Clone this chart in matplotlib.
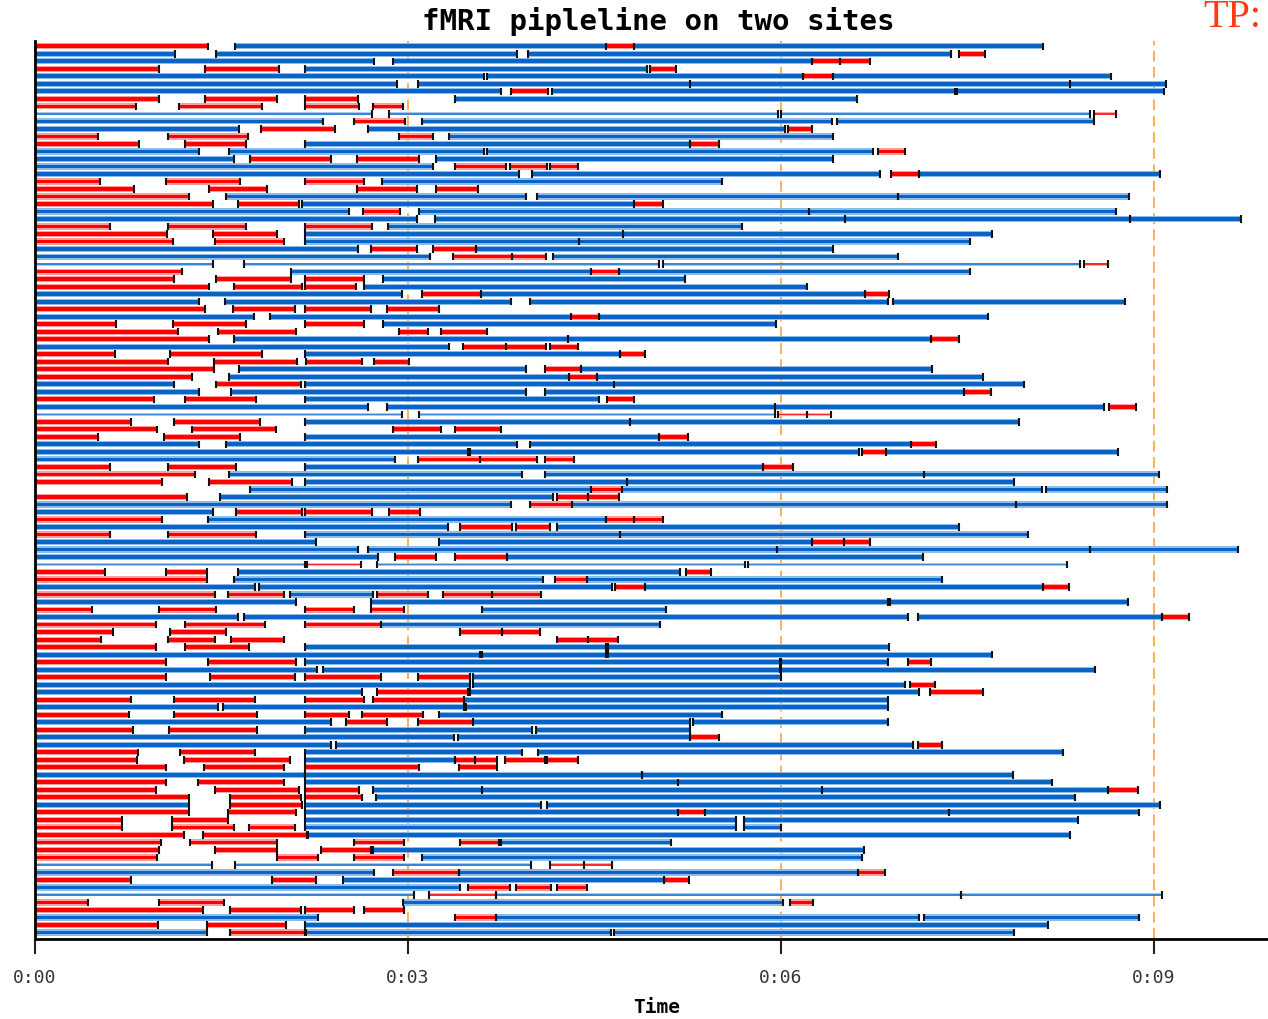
import matplotlib
matplotlib.use("Agg")
import matplotlib.pyplot as plt

# time in minutes; each row = list of (start, end, kind)
# kind: 'r' red, 'b' blue, 'rt' / 'bt' thin red / thin blue
rows = [
    [(0, 1.39, 'r'), (1.61, 4.59, 'b'), (4.59, 4.82, 'r'), (4.82, 8.11, 'b')],
    [(0, 1.13, 'b'), (1.46, 3.88, 'b'), (3.97, 7.37, 'b'), (7.43, 7.64, 'r')],
    [(0, 2.73, 'b'), (2.88, 6.25, 'b'), (6.25, 6.48, 'r'), (6.48, 6.72, 'r')],
    [(0, 1.0, 'r'), (1.37, 1.96, 'r'), (2.17, 4.92, 'b'), (4.95, 5.16, 'r')],
    [(0, 3.61, 'b'), (3.64, 6.18, 'b'), (6.18, 6.42, 'r'), (6.42, 8.66, 'b')],
    [(0, 2.91, 'b'), (3.08, 5.27, 'b'), (5.27, 8.33, 'b'), (8.33, 9.10, 'b')],
    [(0, 3.75, 'b'), (3.83, 4.13, 'r'), (4.16, 7.40, 'b'), (7.42, 9.08, 'b')],
    [(0, 1.0, 'r'), (1.37, 1.95, 'r'), (2.17, 2.6, 'r'), (3.38, 6.61, 'b')],
    [(0, 0.81, 'r'), (1.16, 1.83, 'r'), (2.17, 2.61, 'r'), (2.72, 2.96, 'r')],
    [(0, 2.71, 'bt'), (2.85, 5.98, 'bt'), (6.0, 8.49, 'bt'), (8.52, 8.70, 'rt')],
    [(0, 2.32, 'b'), (2.57, 2.98, 'r'), (3.11, 6.41, 'b'), (6.45, 8.52, 'b')],
    [(0, 1.64, 'b'), (1.82, 2.41, 'r'), (2.68, 6.03, 'b'), (6.06, 6.25, 'r')],
    [(0, 0.51, 'r'), (1.07, 1.71, 'r'), (2.93, 3.20, 'r'), (3.33, 6.42, 'b')],
    [(0, 0.84, 'r'), (1.21, 1.70, 'r'), (2.17, 5.27, 'b'), (5.27, 5.50, 'r')],
    [(0, 1.32, 'b'), (1.56, 3.61, 'b'), (3.64, 6.74, 'b'), (6.78, 7.0, 'r')],
    [(0, 1.60, 'b'), (1.73, 2.38, 'r'), (2.59, 3.09, 'r'), (3.23, 6.42, 'b')],
    [(0, 3.20, 'b'), (3.38, 3.79, 'r'), (3.82, 4.12, 'r'), (4.14, 4.37, 'r')],
    [(0, 3.89, 'b'), (4.0, 6.80, 'b'), (6.89, 7.11, 'r'), (7.11, 9.05, 'b')],
    [(0, 0.52, 'r'), (1.05, 1.65, 'r'), (2.17, 2.65, 'r'), (2.79, 5.53, 'b')],
    [(0, 0.80, 'r'), (1.40, 1.87, 'r'), (2.59, 3.07, 'r'), (3.23, 3.56, 'r')],
    [(0, 1.24, 'r'), (1.54, 3.95, 'b'), (4.04, 6.94, 'b'), (6.94, 8.80, 'b')],
    [(0, 1.43, 'r'), (1.63, 2.12, 'r'), (2.15, 4.82, 'b'), (4.82, 5.05, 'r')],
    [(0, 2.53, 'b'), (2.64, 2.94, 'r'), (3.09, 6.23, 'b'), (6.23, 8.70, 'b')],
    [(0, 3.07, 'b'), (3.22, 6.52, 'b'), (6.52, 8.81, 'b'), (8.81, 9.70, 'b')],
    [(0, 0.60, 'r'), (1.07, 1.70, 'r'), (2.17, 2.71, 'r'), (2.84, 5.69, 'b')],
    [(0, 1.06, 'r'), (1.43, 1.95, 'r'), (2.17, 4.73, 'b'), (4.73, 7.70, 'b')],
    [(0, 1.11, 'r'), (1.45, 2.0, 'r'), (2.17, 4.38, 'b'), (4.38, 7.52, 'b')],
    [(0, 2.60, 'b'), (2.70, 3.07, 'r'), (3.20, 3.55, 'r'), (3.55, 6.42, 'b')],
    [(0, 3.18, 'b'), (3.36, 3.84, 'r'), (3.84, 4.11, 'r'), (4.17, 6.94, 'b')],
    [(0, 1.43, 'bt'), (1.68, 5.02, 'bt'), (5.05, 8.41, 'bt'), (8.44, 8.63, 'rt')],
    [(0, 1.18, 'r'), (2.06, 4.47, 'b'), (4.47, 4.70, 'r'), (4.70, 7.52, 'b')],
    [(0, 1.12, 'r'), (1.46, 2.06, 'r'), (2.17, 2.65, 'r'), (2.80, 5.23, 'b')],
    [(0, 1.40, 'r'), (1.60, 2.15, 'r'), (2.17, 2.58, 'r'), (2.65, 6.21, 'b')],
    [(0, 2.95, 'b'), (3.11, 3.59, 'r'), (3.59, 6.68, 'b'), (6.68, 6.87, 'r')],
    [(0, 1.32, 'b'), (1.53, 3.83, 'b'), (3.98, 6.86, 'b'), (6.90, 8.77, 'b')],
    [(0, 1.37, 'r'), (1.59, 2.09, 'r'), (2.17, 2.70, 'r'), (2.83, 3.25, 'r')],
    [(0, 1.76, 'b'), (1.89, 4.31, 'b'), (4.31, 4.54, 'r'), (4.54, 7.67, 'b')],
    [(0, 0.65, 'r'), (1.11, 1.70, 'r'), (2.17, 2.65, 'r'), (2.80, 5.96, 'b')],
    [(0, 1.15, 'r'), (1.47, 2.10, 'r'), (2.93, 3.16, 'r'), (3.27, 3.64, 'r')],
    [(0, 1.40, 'r'), (1.60, 4.29, 'b'), (4.29, 7.21, 'b'), (7.21, 7.43, 'r')],
    [(0, 3.33, 'b'), (3.44, 3.79, 'r'), (3.79, 4.11, 'r'), (4.14, 4.37, 'r')],
    [(0, 0.64, 'r'), (1.09, 1.83, 'r'), (2.17, 4.71, 'b'), (4.71, 4.91, 'r')],
    [(0, 1.07, 'r'), (1.44, 2.11, 'r'), (2.18, 2.63, 'r'), (2.73, 3.01, 'r')],
    [(0, 1.44, 'r'), (1.64, 3.95, 'b'), (4.10, 4.39, 'r'), (4.39, 7.22, 'b')],
    [(0, 1.26, 'r'), (1.56, 4.30, 'b'), (4.30, 4.52, 'r'), (4.52, 7.63, 'b')],
    [(0, 1.12, 'b'), (1.46, 2.14, 'r'), (2.17, 4.66, 'b'), (4.66, 7.96, 'b')],
    [(0, 1.32, 'b'), (1.58, 3.95, 'b'), (4.10, 7.47, 'b'), (7.47, 7.69, 'r')],
    [(0, 0.96, 'r'), (1.21, 1.78, 'r'), (2.17, 4.54, 'b'), (4.60, 4.82, 'r')],
    [(0, 2.68, 'b'), (2.83, 5.95, 'b'), (5.95, 8.60, 'b'), (8.64, 8.86, 'r')],
    [(0, 2.95, 'bt'), (3.09, 5.95, 'bt'), (5.98, 6.21, 'rt'), (6.21, 6.40, 'rt')],
    [(0, 0.77, 'r'), (1.12, 1.81, 'r'), (2.17, 4.79, 'b'), (4.79, 7.92, 'b')],
    [(0, 0.98, 'r'), (1.26, 1.94, 'r'), (2.88, 3.27, 'r'), (3.38, 3.75, 'r')],
    [(0, 0.51, 'r'), (1.04, 1.65, 'r'), (2.17, 5.02, 'b'), (5.02, 5.25, 'r')],
    [(0, 1.32, 'b'), (1.54, 3.88, 'b'), (3.98, 7.05, 'b'), (7.05, 7.25, 'r')],
    [(0, 3.48, 'b'), (3.50, 6.63, 'b'), (6.65, 6.85, 'r'), (6.85, 8.71, 'b')],
    [(0, 2.90, 'b'), (3.08, 3.58, 'r'), (3.58, 4.04, 'r'), (4.10, 4.34, 'r')],
    [(0, 0.60, 'r'), (1.07, 1.62, 'r'), (2.17, 5.86, 'b'), (5.86, 6.10, 'r')],
    [(0, 1.29, 'r'), (1.56, 3.92, 'b'), (4.10, 7.15, 'b'), (7.15, 9.04, 'b')],
    [(0, 1.02, 'r'), (1.40, 2.07, 'r'), (2.17, 4.76, 'b'), (4.76, 7.88, 'b')],
    [(1.73, 4.47, 'b'), (4.47, 4.72, 'r'), (4.72, 8.10, 'b'), (8.13, 9.11, 'b')],
    [(0, 1.22, 'r'), (1.49, 4.17, 'b'), (4.20, 4.45, 'r'), (4.45, 4.70, 'r')],
    [(0, 3.83, 'b'), (3.98, 4.32, 'r'), (4.32, 7.89, 'b'), (7.89, 9.11, 'b')],
    [(0, 1.43, 'b'), (1.62, 2.15, 'r'), (2.17, 2.71, 'r'), (2.85, 3.10, 'r')],
    [(0, 1.02, 'r'), (1.39, 4.59, 'b'), (4.59, 4.82, 'r'), (4.82, 5.05, 'r')],
    [(0, 3.32, 'b'), (3.42, 3.84, 'r'), (3.87, 4.14, 'r'), (4.20, 7.43, 'b')],
    [(0, 0.60, 'r'), (1.07, 1.78, 'r'), (2.17, 4.71, 'b'), (4.71, 7.99, 'b')],
    [(0, 2.26, 'b'), (3.25, 6.25, 'b'), (6.25, 6.51, 'r'), (6.51, 6.72, 'r')],
    [(0, 2.60, 'b'), (2.68, 5.97, 'b'), (5.97, 8.49, 'b'), (8.49, 9.68, 'b')],
    [(0, 2.76, 'b'), (2.90, 3.23, 'r'), (3.38, 3.80, 'r'), (3.80, 7.14, 'b')],
    [(0, 2.17, 'bt'), (2.19, 2.62, 'rt'), (2.75, 5.71, 'bt'), (5.74, 8.30, 'bt')],
    [(0, 0.56, 'r'), (1.05, 1.38, 'r'), (1.63, 5.19, 'b'), (5.24, 5.44, 'r')],
    [(0, 1.38, 'r'), (1.60, 4.09, 'b'), (4.18, 4.44, 'r'), (4.44, 7.30, 'b')],
    [(0, 1.77, 'b'), (1.80, 4.64, 'b'), (4.67, 4.91, 'r'), (4.91, 8.11, 'b'), (8.11, 8.32, 'r')],
    [(0, 1.45, 'r'), (1.55, 2.0, 'r'), (2.05, 2.72, 'b'), (2.75, 3.16, 'r'), (3.28, 3.68, 'r'), (3.68, 4.07, 'r')],
    [(0, 2.10, 'b'), (2.70, 6.86, 'b'), (6.88, 8.79, 'b')],
    [(0, 0.46, 'r'), (1.0, 1.46, 'r'), (2.17, 2.57, 'r'), (2.70, 2.97, 'r'), (3.60, 5.08, 'b')],
    [(0, 1.63, 'b'), (1.68, 7.02, 'b'), (7.10, 9.07, 'b'), (9.07, 9.28, 'r')],
    [(0, 0.97, 'r'), (1.21, 1.85, 'r'), (2.17, 2.78, 'r'), (2.78, 5.03, 'b')],
    [(0, 0.63, 'r'), (1.09, 1.54, 'r'), (3.42, 3.76, 'r'), (3.76, 4.06, 'r')],
    [(0, 0.53, 'r'), (1.07, 1.45, 'r'), (1.58, 2.0, 'r'), (4.20, 4.45, 'r'), (4.45, 4.69, 'r')],
    [(0, 0.97, 'r'), (1.21, 1.72, 'r'), (2.17, 4.59, 'b'), (4.61, 6.87, 'b')],
    [(0, 3.58, 'b'), (3.60, 4.59, 'b'), (4.61, 7.70, 'b')],
    [(0, 1.05, 'r'), (1.39, 2.10, 'r'), (2.17, 5.99, 'b'), (6.0, 6.86, 'b'), (7.02, 7.21, 'r')],
    [(0, 2.27, 'b'), (2.32, 5.99, 'b'), (6.0, 8.53, 'b')],
    [(0, 1.05, 'r'), (1.41, 2.09, 'r'), (2.17, 2.78, 'r'), (3.08, 3.50, 'r'), (3.52, 6.0, 'b')],
    [(0, 3.50, 'b'), (3.52, 7.0, 'b'), (7.04, 7.24, 'r')],
    [(0, 2.63, 'b'), (2.75, 3.48, 'r'), (3.50, 7.11, 'b'), (7.20, 7.63, 'r')],
    [(0, 0.77, 'r'), (1.12, 1.77, 'r'), (2.17, 2.65, 'r'), (2.72, 3.45, 'r'), (3.45, 6.86, 'b')],
    [(0, 1.47, 'b'), (1.51, 3.45, 'b'), (3.47, 6.86, 'b')],
    [(0, 0.76, 'r'), (1.12, 1.79, 'r'), (2.17, 2.53, 'r'), (2.63, 3.12, 'r'), (3.25, 5.53, 'b')],
    [(0, 2.38, 'b'), (2.50, 2.83, 'r'), (3.08, 3.52, 'r'), (3.52, 5.27, 'b'), (5.29, 6.86, 'b')],
    [(0, 0.79, 'r'), (1.08, 1.79, 'r'), (2.17, 4.0, 'b'), (4.03, 5.27, 'b')],
    [(0, 3.37, 'b'), (3.40, 5.27, 'b'), (5.27, 5.50, 'r')],
    [(0, 2.38, 'b'), (2.42, 7.06, 'b'), (7.10, 7.30, 'r')],
    [(0, 0.83, 'r'), (1.17, 1.77, 'r'), (2.17, 3.92, 'b'), (4.05, 8.27, 'b')],
    [(0, 0.82, 'r'), (1.20, 2.05, 'r'), (2.17, 3.38, 'b'), (3.38, 3.54, 'r'), (3.54, 3.72, 'r'), (3.78, 4.10, 'r'), (4.12, 4.37, 'r')],
    [(0, 1.05, 'r'), (1.36, 2.0, 'r'), (2.17, 3.09, 'r'), (3.41, 3.72, 'r')],
    [(0, 2.17, 'b'), (2.17, 4.88, 'b'), (4.88, 7.87, 'b')],
    [(0, 1.05, 'r'), (1.31, 2.0, 'r'), (2.17, 5.17, 'b'), (5.17, 8.18, 'b')],
    [(0, 0.97, 'r'), (1.45, 2.12, 'r'), (2.17, 2.61, 'r'), (2.72, 3.60, 'b'), (3.60, 6.33, 'b'), (6.33, 8.63, 'b'), (8.63, 8.87, 'r')],
    [(0, 1.24, 'r'), (1.57, 2.14, 'r'), (2.17, 2.63, 'r'), (2.74, 8.37, 'b')],
    [(0, 1.24, 'b'), (1.57, 2.15, 'r'), (2.17, 4.07, 'b'), (4.12, 9.05, 'b')],
    [(0, 1.24, 'r'), (1.55, 2.10, 'r'), (2.17, 5.17, 'b'), (5.17, 5.39, 'r'), (5.39, 7.35, 'b'), (7.35, 8.88, 'b')],
    [(0, 0.70, 'r'), (1.10, 1.55, 'r'), (2.17, 5.64, 'b'), (5.70, 8.39, 'b')],
    [(0, 0.70, 'r'), (1.10, 1.60, 'r'), (1.72, 2.09, 'r'), (2.17, 5.64, 'b'), (5.70, 6.0, 'b')],
    [(0, 1.20, 'r'), (1.35, 2.19, 'r'), (2.20, 8.33, 'b')],
    [(0, 1.01, 'r'), (1.25, 1.95, 'r'), (2.57, 2.97, 'r'), (3.42, 3.73, 'r'), (3.75, 5.12, 'b')],
    [(0, 1.0, 'r'), (1.45, 1.95, 'r'), (2.30, 2.70, 'r'), (2.72, 6.67, 'b')],
    [(0, 0.98, 'r'), (1.95, 2.28, 'r'), (2.57, 2.97, 'r'), (3.11, 6.65, 'b')],
    [(0, 1.42, 'bt'), (1.61, 3.99, 'bt'), (4.14, 4.42, 'rt'), (4.42, 4.64, 'rt')],
    [(0, 2.73, 'b'), (2.88, 3.41, 'r'), (3.41, 6.62, 'b'), (6.62, 6.84, 'r')],
    [(0, 0.77, 'r'), (1.91, 2.26, 'r'), (2.48, 5.06, 'b'), (5.06, 5.26, 'r')],
    [(0, 3.42, 'b'), (3.48, 3.82, 'r'), (3.87, 4.15, 'r'), (4.20, 4.44, 'r')],
    [(0, 3.05, 'bt'), (3.17, 3.71, 'rt'), (3.71, 7.45, 'bt'), (7.45, 9.07, 'bt')],
    [(0, 0.43, 'r'), (1.0, 1.52, 'r'), (2.96, 6.02, 'b'), (6.07, 6.26, 'r')],
    [(0, 1.35, 'r'), (1.57, 2.14, 'r'), (2.17, 2.57, 'r'), (2.65, 2.97, 'r')],
    [(0, 2.28, 'b'), (3.38, 3.71, 'r'), (3.71, 7.11, 'b'), (7.15, 8.88, 'b')],
    [(0, 0.99, 'r'), (1.38, 2.02, 'r'), (2.17, 8.15, 'b')],
    [(0, 1.38, 'b'), (1.57, 2.17, 'r'), (2.18, 4.63, 'b'), (4.66, 7.88, 'b')],
]

tick_values = [0, 3, 6, 9]
tick_labels = ["0:00", "0:03", "0:06", "0:09"]

# outer height, outer colour, core height, core colour
styles = {
    'b': (0.82, '#8dbbea', 0.50, '#0a64c8'),
    'r': (0.82, '#ff9d9d', 0.50, '#ff0000'),
    'bt': (0.40, '#a9caee', 0.18, '#3a86d6'),
    'rt': (0.40, '#ffa8a8', 0.18, '#ff2a2a'),
}

W, H = 1268, 1020
fig = plt.figure(figsize=(W / 100, H / 100), dpi=100)
ax = fig.add_axes([35 / W, 80 / H, (W - 35) / W, 898 / H])

for v in tick_values:
    ax.axvline(v, color='#ffa947', lw=1.3, ls=(0, (6, 3)), zorder=0.5)

groups = {k: ([], [], []) for k in styles}
tick_x, tick_y = [], []
for i, segs in enumerate(rows):
    for s, e, k in segs:
        groups[k][0].append(i)
        groups[k][1].append(s)
        groups[k][2].append(e - s)
        tick_x += [s, e]
        tick_y += [i, i]

for k, (ys, lefts, widths) in groups.items():
    oh, oc, ih, ic = styles[k]
    ax.barh(ys, widths, left=lefts, height=oh, color=oc, lw=0, zorder=2)
    ax.barh(ys, widths, left=lefts, height=ih, color=ic, lw=0, zorder=3)

ax.vlines(tick_x, [y - 0.5 for y in tick_y], [y + 0.5 for y in tick_y],
          color='#111111', lw=1.5, zorder=4)

ax.set_xlim(0, (W - 35) / 124.3)
ax.set_ylim(118.86, -0.706)
ax.set_yticks([])
ax.set_xticks(tick_values)
ax.set_xticklabels(tick_labels, family='DejaVu Sans Mono', fontsize=13, color='#333333')
ax.tick_params(axis='x', length=11, width=1.5, pad=10, color='#222222')
for side in ['top', 'right']:
    ax.spines[side].set_visible(False)
ax.spines['left'].set_linewidth(2)
ax.spines['bottom'].set_linewidth(2)
ax.spines['left'].set_zorder(5)

fig.text(658 / W, 1 - 21 / H, "fMRI pipleline on two sites", ha='center', va='center',
         fontsize=21, fontweight='bold', family='DejaVu Sans Mono')
fig.text(657 / W, 12 / H, "Time", ha='center', va='center',
         fontsize=14, fontweight='bold', family='DejaVu Sans Mono')
fig.text(1203 / W, 1 - 27 / H, "TP:", ha='left', va='baseline',
         fontsize=29, color='#ff3a10', family='Liberation Serif')

fig.savefig('out.png', dpi=100)
